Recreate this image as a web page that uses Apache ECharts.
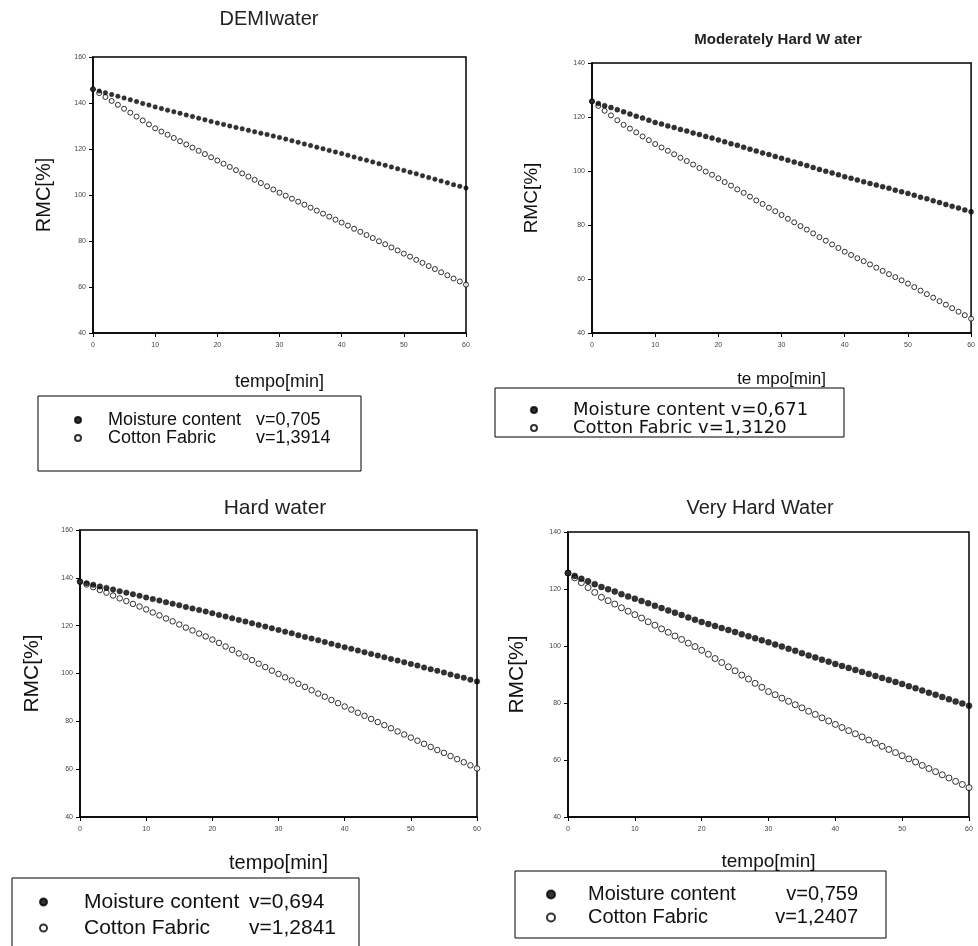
<!DOCTYPE html>
<html><head><meta charset="utf-8">
<script src="https://cdn.jsdelivr.net/npm/echarts@6/dist/echarts.min.js"></script>
<style>html,body{margin:0;padding:0;background:#fff;overflow:hidden}#c{width:978px;height:962px}</style>
</head><body><div id="c"></div>
<script>
// ---------- data ----------
const minutes = [0,1,2,3,4,5,6,7,8,9,10,11,12,13,14,15,16,17,18,19,20,21,22,23,24,25,26,27,28,29,30,31,32,33,34,35,36,37,38,39,40,41,42,43,44,45,46,47,48,49,50,51,52,53,54,55,56,57,58,59,60];

const panelTitles = ['DEMIwater', 'Moderately Hard W ater', 'Hard water', 'Very Hard Water'];
const xAxisNames = ['tempo[min]', 'te mpo[min]', 'tempo[min]', 'tempo[min]'];
const yAxisName = 'RMC[%]';
const yRanges = [[40,160],[40,140],[40,160],[40,140]];
const xRange = [0,60];

const moistureLabels = ['Moisture content v=0,705', 'Moisture content v=0,671', 'Moisture content v=0,694', 'Moisture content v=0,759'];
const cottonLabels   = ['Cotton Fabric v=1,3914', 'Cotton Fabric v=1,3120', 'Cotton Fabric v=1,2841', 'Cotton Fabric v=1,2407'];

const demiMoisture = [146.0,145.2,144.5,143.7,142.9,142.2,141.4,140.6,139.8,139.1,138.3,
 137.6,136.9,136.2,135.5,134.8,134.1,133.4,132.7,132.0,131.3,
 130.7,130.0,129.4,128.8,128.1,127.5,126.9,126.3,125.6,125.0,
 124.3,123.6,122.9,122.2,121.5,120.8,120.1,119.4,118.7,118.0,
 117.3,116.5,115.8,115.1,114.4,113.6,112.9,112.2,111.4,110.7,
 109.9,109.2,108.4,107.6,106.9,106.1,105.3,104.5,103.8,103.0];
const demiCotton = [146.0,144.3,142.6,140.9,139.2,137.5,135.8,134.1,132.4,130.7,129.0,
 127.6,126.2,124.8,123.4,122.0,120.6,119.2,117.8,116.4,115.0,
 113.6,112.2,110.8,109.4,108.0,106.6,105.2,103.8,102.4,101.0,
 99.7,98.4,97.1,95.8,94.5,93.2,91.9,90.6,89.3,88.0,
 86.7,85.3,84.0,82.6,81.3,79.9,78.6,77.2,75.9,74.5,
 73.2,71.8,70.5,69.1,67.8,66.4,65.1,63.7,62.4,61.0];

const modMoisture = [125.8,125.0,124.2,123.5,122.7,121.9,121.1,120.3,119.6,118.8,118.0,
 117.4,116.7,116.1,115.4,114.8,114.1,113.5,112.8,112.2,111.5,
 110.8,110.1,109.5,108.8,108.1,107.4,106.7,106.1,105.4,104.7,
 104.0,103.3,102.7,102.0,101.3,100.6,99.9,99.3,98.6,97.9,
 97.3,96.7,96.0,95.4,94.8,94.2,93.6,92.9,92.3,91.7,
 91.0,90.3,89.7,89.0,88.3,87.6,86.9,86.3,85.6,84.9];
const modCotton = [125.8,124.1,122.3,120.6,118.8,117.1,115.7,114.3,112.8,111.4,110.0,
 108.7,107.5,106.2,104.9,103.7,102.4,101.1,99.8,98.6,97.3,
 95.9,94.6,93.2,91.9,90.5,89.1,87.8,86.4,85.1,83.7,
 82.3,81.0,79.6,78.3,76.9,75.5,74.2,72.8,71.5,70.1,
 68.9,67.7,66.6,65.4,64.2,63.0,61.8,60.7,59.5,58.3,
 57.0,55.7,54.4,53.1,51.8,50.5,49.2,47.9,46.6,45.3];

const hardMoisture = [138.4,137.7,137.1,136.4,135.8,135.1,134.4,133.8,133.1,132.5,131.8,
 131.1,130.5,129.8,129.2,128.5,127.8,127.2,126.5,125.9,125.2,
 124.5,123.8,123.1,122.4,121.7,121.0,120.3,119.6,118.9,118.2,
 117.5,116.8,116.0,115.3,114.6,113.9,113.2,112.4,111.7,111.0,
 110.3,109.6,108.9,108.2,107.5,106.8,106.1,105.4,104.7,104.0,
 103.3,102.5,101.8,101.1,100.4,99.6,98.9,98.2,97.4,96.7];
const hardCotton = [138.4,137.2,136.1,134.9,133.8,132.6,131.4,130.3,129.1,128.0,126.8,
 125.5,124.3,123.0,121.8,120.5,119.2,118.0,116.7,115.5,114.2,
 112.8,111.3,109.9,108.4,107.0,105.6,104.1,102.7,101.2,99.8,
 98.4,97.1,95.7,94.4,93.0,91.6,90.3,88.9,87.6,86.2,
 84.9,83.6,82.3,81.0,79.7,78.4,77.1,75.8,74.5,73.2,
 71.9,70.6,69.3,68.0,66.8,65.5,64.2,62.9,61.6,60.3];

const veryMoisture = [125.6,124.6,123.6,122.7,121.7,120.7,119.9,119.1,118.2,117.4,116.6,
 115.8,115.0,114.1,113.3,112.5,111.7,110.9,110.0,109.2,108.4,
 107.7,107.0,106.3,105.6,104.9,104.1,103.4,102.7,102.0,101.3,
 100.5,99.8,99.0,98.3,97.5,96.7,96.0,95.2,94.5,93.7,
 93.0,92.3,91.6,90.9,90.2,89.5,88.8,88.1,87.4,86.7,
 85.9,85.2,84.4,83.6,82.9,82.1,81.3,80.5,79.8,79.0];
const veryCotton = [125.6,123.9,122.2,120.5,118.8,117.1,115.9,114.7,113.4,112.2,111.0,
 109.8,108.5,107.3,106.0,104.8,103.5,102.3,101.0,99.8,98.5,
 97.1,95.6,94.2,92.7,91.3,89.8,88.4,86.9,85.5,84.0,
 82.9,81.7,80.6,79.4,78.3,77.1,76.0,74.8,73.7,72.5,
 71.4,70.3,69.2,68.1,67.0,65.9,64.8,63.7,62.6,61.5,
 60.4,59.3,58.1,57.0,55.9,54.8,53.7,52.5,51.4,50.3];

const moistureSeries = [demiMoisture, modMoisture, hardMoisture, veryMoisture];
const cottonSeries = [demiCotton, modCotton, hardCotton, veryCotton];

// ---------- layout ----------
const grids = [
  {left:93, top:57, width:373, height:276},
  {left:592, top:63, width:381, height:270},
  {left:80, top:530, width:397, height:287},
  {left:568, top:532, width:401, height:285}
];
const xNameGaps = [40, 38, 36, 35];
const xNameSizes = [18, 17, 20, 19];
const yNameGaps = [39, 51, 37, 40];
const yNameSizes = [20, 19, 21, 21];
const symSizes = [[4.5,5],[5,5],[5.5,5.5],[6,6]];
const FONT = '"Liberation Sans", Arial, sans-serif';

const titlePos = [
  {x:269, y:19, size:20, weight:'normal'},
  {x:778, y:40, size:15, weight:'bold'},
  {x:275, y:508, size:21, weight:'normal'},
  {x:760, y:508, size:20, weight:'normal'}
];

function pairs(arr){ return minutes.map((m,i)=>[m, arr[i]]); }

const xAxes = grids.map((g,i)=>({
  type:'value', gridIndex:i, min:xRange[0], max:xRange[1], interval:10,
  name:xAxisNames[i], nameLocation:'middle', nameGap:xNameGaps[i],
  nameTextStyle:{fontFamily:FONT, fontSize:xNameSizes[i], color:'#111'},
  axisLine:{show:true, lineStyle:{color:'#000', width:1.5}},
  axisTick:{show:true, length:4, lineStyle:{color:'#000', width:1}},
  axisLabel:{fontSize:7, color:'#444', margin:9, fontFamily:FONT},
  splitLine:{show:false}
}));
const yAxes = grids.map((g,i)=>({
  type:'value', gridIndex:i, min:yRanges[i][0], max:yRanges[i][1], interval:20,
  name:yAxisName, nameLocation:'middle', nameGap:yNameGaps[i], nameRotate:90,
  nameTextStyle:{fontFamily:FONT, fontSize:yNameSizes[i], color:'#111'},
  axisLine:{show:true, lineStyle:{color:'#000', width:1.5}},
  axisTick:{show:true, length:4, lineStyle:{color:'#000', width:1}},
  axisLabel:{fontSize:7, color:'#444', margin:7, fontFamily:FONT},
  splitLine:{show:false}
}));

const series = [];
for (let i=0;i<4;i++){
  series.push({
    type:'scatter', name:moistureLabels[i], xAxisIndex:i, yAxisIndex:i,
    symbol:'circle', symbolSize:symSizes[i][0],
    itemStyle:{color:'#000', borderColor:'#000', borderWidth:0.5},
    data:pairs(moistureSeries[i]), silent:true, z:3
  });
  series.push({
    type:'scatter', name:cottonLabels[i], xAxisIndex:i, yAxisIndex:i,
    symbol:'circle', symbolSize:symSizes[i][1],
    itemStyle:{color:'#fff', borderColor:'#000', borderWidth:1},
    data:pairs(cottonSeries[i]), silent:true, z:2
  });
}

const legendCfg = [
  {left:38, top:396, padding:[15,10,24,36], itemW:6, sp:22, size:18, lh:18, aw:148, bw:95, balign:'left', split:true, family:FONT},
  {left:495, top:388, padding:[13,31,0,35], itemW:6, sp:31, size:18, lh:16, aw:240, split:false, family:'"DejaVu Sans", sans-serif'},
  {left:12, top:878, padding:[11,10,12,27], itemW:7, sp:32, size:21, lh:26, aw:165, bw:100, balign:'left', split:true, family:FONT},
  {left:515, top:871, padding:[12,28,9,31], itemW:8, sp:28, size:20, lh:23, aw:178, bw:92, balign:'right', split:true, family:FONT}
];

const legends = legendCfg.map((c,i)=>{
  const common = {fontFamily:c.family, fontSize:c.size, lineHeight:c.lh, color:'#111'};
  const rich = {
    s:Object.assign({width:c.sp}, common),
    a:Object.assign({width:c.aw}, common)
  };
  if (c.split) rich.b = Object.assign({width:c.bw, align:c.balign}, common);
  return {
    data:[moistureLabels[i], cottonLabels[i]],
    orient:'vertical', left:c.left, top:c.top, padding:c.padding,
    itemGap:0, itemWidth:c.itemW, itemHeight:c.itemW,
    borderColor:'#000', borderWidth:1, backgroundColor:'#fff',
    selectedMode:false, align:'left',
    formatter:function(name){
      if (!c.split) return '{s| }{a|' + name + '}';
      const k = name.indexOf(' v=');
      return '{s| }{a|' + name.slice(0,k) + '}{b|' + name.slice(k+1) + '}';
    },
    textStyle:Object.assign({rich:rich}, common)
  };
});

const graphics = titlePos.map((t,i)=>({
  type:'text', x:t.x, y:t.y, silent:true,
  style:{text:panelTitles[i], fontFamily:FONT, fontSize:t.size, fontWeight:t.weight,
         fill:'#222', textAlign:'center', textVerticalAlign:'middle'}
}));

const chart = echarts.init(document.getElementById('c'), null, {renderer:'canvas'});
chart.setOption({
  animation:false,
  backgroundColor:'#fff',
  grid:grids.map(g=>Object.assign({show:true, borderColor:'#000', borderWidth:1.5, backgroundColor:'transparent', containLabel:false}, g)),
  xAxis:xAxes, yAxis:yAxes,
  legend:legends,
  series:series,
  graphic:graphics
});
</script></body></html>
